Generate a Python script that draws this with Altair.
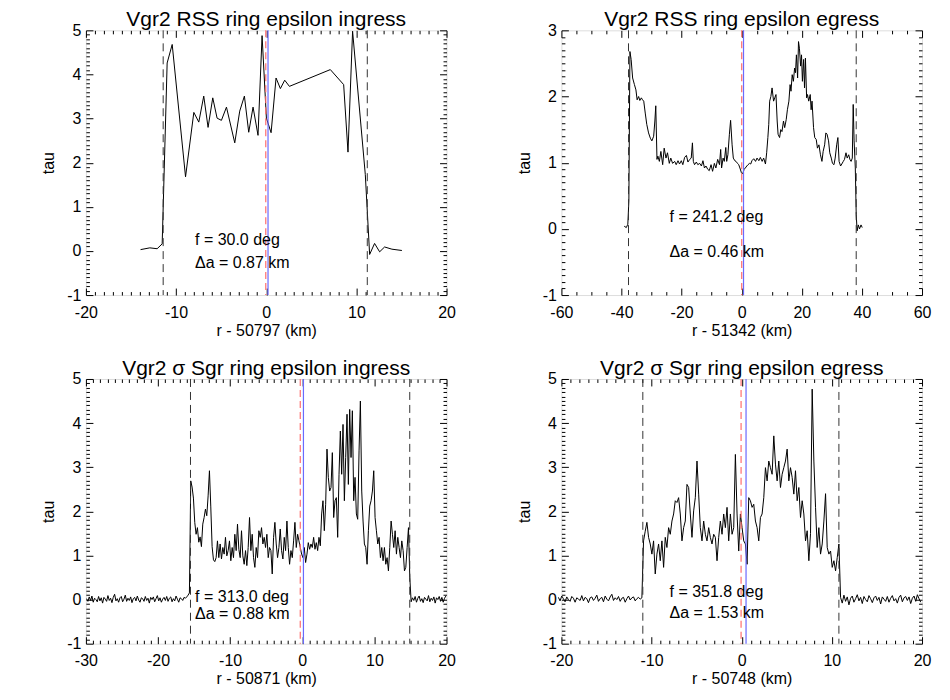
import altair as alt
import pandas as pd
import numpy as np

FONT = "Liberation Sans"
W, H = 361, 265

# ---------------- Panel 1: Vgr2 RSS ring epsilon ingress ----------------
p1_x = [-13.94, -12.91, -12.10, -11.54, -10.99, -10.43, -8.95, -8.03, -7.48, -6.93,
        -6.45, -5.93, -5.45, -4.97, -4.41, -3.49, -2.94, -2.42, -1.94, -1.46,
        -0.91, -0.46, 0.02, 0.54, 1.09, 1.57, 2.05, 2.57, 7.11, 8.59,
        9.07, 9.58, 10.99, 11.47, 12.02, 12.58, 13.13, 13.94, 15.05]
p1_tau = [0.03, 0.07, 0.05, 0.16, 4.26, 4.68, 1.68, 3.14, 2.92, 3.51,
          2.80, 3.47, 3.01, 2.96, 3.26, 2.45, 3.17, 3.51, 2.69, 3.26,
          2.62, 4.88, 3.01, 2.68, 3.92, 3.68, 3.87, 3.73, 4.11, 3.77,
          2.24, 4.98, 1.73, -0.08, 0.17, -0.02, 0.09, 0.04, 0.01]

# ---------------- Panel 2: Vgr2 RSS ring epsilon egress ----------------
p2_x = [-39.1, -38.4, -37.9, -37.55, -37.2, -36.8, -36.3, -35.7, -35.2, -34.8,
        -34.3, -33.9, -33.4, -33.0, -32.6, -32.1, -31.6, -31.0, -30.4, -29.9,
        -29.3, -28.9, -28.6, -28.2, -27.9, -27.4, -26.9, -26.3, -25.8, -25.2,
        -24.7, -24.1, -23.6, -23.0, -22.3, -21.8, -21.2, -20.7, -20.1, -19.6,
        -19.0, -18.4, -17.9, -17.3, -16.8, -16.4, -16.1, -15.7, -15.1, -14.6,
        -14.0, -13.4, -12.9, -12.4, -11.9, -11.3, -10.8, -10.2, -9.7, -9.1,
        -8.6, -8.0, -7.4, -7.0, -6.7, -6.2, -5.8, -5.3, -5.0, -4.6,
        -4.1, -3.7, -3.2, -2.8, -2.3, -1.9, -1.4, -1.0, -0.6, -0.1,
        0.3, 0.8, 1.2, 1.7, 2.1, 2.6, 3.0, 3.4, 4.0, 4.6,
        5.1, 5.7, 6.2, 6.8, 7.3, 7.9, 8.3, 8.7, 9.0, 9.3,
        9.7, 10.1, 10.6, 11.0, 11.4, 11.8, 12.1, 12.6, 13.0, 13.4,
        13.9, 14.3, 14.8, 15.2, 15.7, 16.1, 16.4, 16.8, 17.2, 17.6,
        17.9, 18.2, 18.6, 18.9, 19.2, 19.6, 19.9, 20.2, 20.6, 20.9,
        21.2, 21.6, 21.9, 22.3, 22.8, 23.1, 23.4, 23.9, 24.3, 24.8,
        25.2, 25.7, 26.2, 26.7, 27.1, 27.6, 28.0, 28.4, 28.9, 29.3,
        29.8, 30.2, 30.7, 31.1, 31.6, 32.0, 32.4, 32.9, 33.3, 33.8,
        34.2, 34.7, 35.1, 35.6, 36.0, 36.4, 36.8, 37.1, 37.4, 37.8,
        38.1, 38.4, 38.8, 39.2, 39.7, 40.1]
p2_tau = [0.04, 0.02, 0.07, 0.42, 2.68, 2.56, 2.28, 2.18, 2.10, 1.95,
          2.00, 1.94, 1.98, 1.95, 1.93, 1.75, 1.58, 1.45, 1.37, 1.33,
          1.40, 1.63, 1.86, 1.05, 1.10, 1.02, 1.17, 0.97, 1.22, 1.07,
          1.15, 0.99, 1.07, 0.99, 1.02, 0.97, 1.03, 0.98, 1.03, 0.97,
          1.08, 1.11, 1.01, 1.05, 1.07, 1.30, 1.02, 0.97, 1.01, 0.97,
          0.99, 0.95, 1.03, 0.92, 0.95, 0.90, 0.88, 0.97, 0.87, 0.99,
          0.92, 1.05, 0.97, 1.20, 0.92, 1.07, 1.02, 1.23, 1.02, 1.12,
          1.43, 1.64, 1.27, 1.07, 1.03, 1.02, 0.99, 0.97, 0.92, 0.85,
          0.83, 0.90, 0.92, 0.95, 0.97, 0.99, 0.98, 1.03, 1.06, 1.02,
          1.07, 1.03, 1.08, 1.02, 1.07, 0.98, 1.15, 1.38, 1.58, 1.93,
          2.00, 2.13, 1.93, 1.98, 2.03, 1.63, 1.43, 1.38, 1.50, 1.47,
          1.63, 1.53, 1.65, 1.80, 1.93, 2.18, 2.08, 2.33, 2.23, 2.43,
          2.36, 2.63, 2.28, 2.83, 2.73, 2.46, 2.63, 2.23, 2.56, 2.13,
          2.58, 1.98, 2.03, 1.93, 2.03, 1.80, 1.93, 1.53, 1.38, 1.35,
          1.22, 1.27, 1.12, 1.02, 1.17, 1.27, 1.45, 1.43, 1.33, 1.15,
          1.07, 0.99, 0.97, 1.07, 1.27, 1.38, 1.02, 0.95, 0.98, 1.02,
          1.05, 1.15, 1.07, 1.12, 1.05, 1.02, 1.07, 1.88, 1.33, 0.92,
          0.22, -0.03, 0.06, 0.00, 0.06, 0.02]

# ---------------- Panel 3: Vgr2 sigma Sgr ring epsilon ingress ----------------
p3_start, p3_step = -29.91, 0.1852
p3_tau = (
    [0.02, -0.04, 0.06, -0.02, 0.08, -0.06, 0.03, 0.00, -0.05, 0.07,
     -0.03, 0.04, -0.08, 0.05, 0.01, -0.04, 0.09, -0.02, 0.03, -0.07,
     0.05, 0.12, -0.03, 0.02, -0.06, 0.04, 0.07, -0.05, 0.01, 0.10,
     -0.04, 0.03, -0.02, 0.06, -0.07, 0.02, 0.05, -0.03, 0.08, -0.01,
     -0.06, 0.04, 0.02, -0.04, 0.07, -0.02, 0.03, -0.08, 0.05, 0.00,
     0.06, -0.05, 0.02, 0.09, -0.03, 0.04, -0.06, 0.01, 0.05, -0.02,
     0.07, -0.04, 0.03, 0.06, -0.05, 0.02, -0.03, 0.08, 0.01, -0.06,
     0.04, 0.02, -0.02, 0.05, 0.03, 0.06, 0.10]
    + [0.15, 2.69, 2.55, 2.30, 1.75, 1.48, 1.63, 1.30, 1.42, 1.20, 1.71,
       1.86, 2.05, 1.90, 2.35, 2.92, 2.10, 1.20, 0.90, 0.86, 0.95, 1.33]
    + [0.95, 1.26, 0.92, 1.18, 1.03, 1.41, 0.99, 1.11, 1.33, 0.88,
       1.18, 0.95, 1.48, 1.11, 1.71, 1.14, 0.95, 1.56, 0.99, 0.80,
       1.11, 0.77, 1.18, 1.86, 1.11, 1.48, 0.95, 0.73, 1.18, 0.95,
       1.56, 1.41, 1.63, 1.26, 1.41, 1.18, 1.48, 0.95, 1.18, 1.11,
       0.58, 1.41, 1.75, 1.26, 0.95, 1.18, 1.60, 1.11, 0.92, 1.41,
       1.11, 1.78, 1.18, 0.80, 1.11, 0.95, 1.33, 1.75, 1.18, 1.48,
       1.33, 1.18, 1.03, 0.95, 1.18, 0.84, 1.03, 1.29, 1.14, 1.26,
       1.18, 1.41, 1.14, 1.29, 1.11, 1.41, 1.22, 1.94, 2.24, 1.56,
       2.16, 3.41, 2.77, 2.46, 2.54, 3.33, 1.86, 2.24, 2.31, 1.41,
       2.84, 3.82, 2.84, 3.97, 2.24, 3.22, 4.20, 2.61, 4.31, 3.22,
       4.28, 2.24, 2.77, 1.94, 1.82, 3.37, 4.50, 2.46, 1.78, 1.26,
       1.18, 0.80, 1.56, 2.12, 2.24, 2.46, 2.92, 1.86, 1.56, 1.26,
       1.41, 0.95, 1.18, 0.88, 1.18, 0.80, 0.95, 0.65, 1.18, 1.78,
       1.48, 1.18, 1.56, 1.03, 1.41, 1.18, 0.95, 1.33, 1.11, 0.65,
       0.73, 1.18, 1.63, 0.50]
    + [-0.05, 0.04, -0.02, 0.07, -0.06, 0.03, 0.08, -0.04, 0.02, -0.07,
       0.05, 0.01, -0.03, 0.09, -0.05, 0.03, -0.02, 0.06, -0.08, 0.04,
       0.00, 0.07, -0.04, 0.05, -0.06, 0.03, 0.08]
)

# ---------------- Panel 4: Vgr2 sigma Sgr ring epsilon egress ----------------
p4_start, p4_step = -20.333, 0.1852
p4_tau = (
    [0.05, -0.03, 0.08, 0.02, -0.05, 0.06, 0.00, -0.04, 0.07, 0.03,
     -0.06, 0.04, 0.01, -0.02, 0.09, -0.03, 0.05, 0.02, -0.07, 0.04,
     0.06, -0.02, 0.03, 0.10, -0.04, 0.02, 0.05, -0.05, 0.08, 0.01,
     -0.03, 0.06, 0.12, -0.02, 0.04, 0.00, 0.07, -0.04, 0.03, 0.05,
     -0.06, 0.02, 0.08, -0.01, 0.04, 0.06, -0.03, 0.02, 0.05, 0.01, 0.04]
    + [1.33, 1.55, 1.75, 1.41, 1.26, 1.03, 1.33, 0.58, 1.03, 1.26,
       0.88, 1.33, 0.73, 1.41, 1.18, 1.63, 1.48, 1.78, 1.94, 2.24,
       2.20, 2.31, 1.94, 1.33, 1.63, 1.78, 2.61, 2.54, 1.94, 1.41,
       2.01, 2.31, 3.14, 2.39, 1.63, 1.33, 1.78, 1.48, 1.33, 1.63,
       1.41, 1.26, 1.48, 1.41, 0.88, 1.41, 1.78, 1.48, 1.94, 1.63,
       2.09, 1.33, 1.94, 1.48, 1.63, 3.29, 1.94, 1.10, 1.94, 1.63,
       1.33, 1.26, 0.80, 2.31, 2.24, 2.09, 2.16, 1.78, 1.63, 1.33,
       1.86, 1.94, 2.31, 2.99, 2.69, 3.14, 2.99, 2.84, 3.71, 3.07,
       2.69, 3.14, 2.54, 2.84, 2.99, 3.14, 3.41, 2.69, 2.99, 2.77,
       2.39, 2.92, 2.24, 2.54, 1.86, 2.24, 1.94, 1.33, 1.56, 0.88,
       1.50, 4.77, 3.14, 2.09, 1.18, 1.63, 1.03, 1.26, 1.78, 2.40,
       1.18, 1.03, 1.10, 0.73, 0.88, 0.65, 0.95, 1.26]
    + [0.05, -0.08, 0.10, -0.04, 0.06, -0.12, 0.03, 0.08, -0.06, 0.02,
       0.11, -0.03, 0.05, -0.09, 0.07, 0.00, -0.05, 0.09, 0.02, -0.07,
       0.04, 0.08, -0.02, 0.05, -0.10, 0.06, 0.01, -0.04, 0.07, -0.06,
       0.03, 0.09, -0.03, 0.02, -0.08, 0.05, 0.10, -0.05, 0.04, 0.07,
       -0.02, 0.06, -0.09, 0.03, 0.08, -0.04, 0.11, 0.02, -0.06]
)
p3_x = [round(p3_start + p3_step * i, 3) for i in range(len(p3_tau))]
p4_x = [round(p4_start + p4_step * i, 3) for i in range(len(p4_tau))]

# ---------------- Per-panel annotations ----------------
titles = ["Vgr2 RSS ring epsilon ingress", "Vgr2 RSS ring epsilon egress",
          "Vgr2 \u03c3 Sgr ring epsilon ingress", "Vgr2 \u03c3 Sgr ring epsilon egress"]
x_titles = ["r - 50797 (km)", "r - 51342 (km)", "r - 50871 (km)", "r - 50748 (km)"]
f_labels = ["f = 30.0 deg", "f = 241.2 deg", "f = 313.0 deg", "f = 351.8 deg"]
da_labels = ["\u0394a = 0.87 km", "\u0394a = 0.46 km", "\u0394a = 0.88 km", "\u0394a = 1.53 km"]
label_x = [-7.9, -24.0, -14.86, -8.0]
label_y_f = [0.245, 0.18, 0.065, 0.18]
label_y_da = [-0.27, -0.35, -0.32, -0.30]
edge_lines = [[-11.43, 11.21], [-37.67, 38.1], [-15.5, 14.9], [-10.97, 10.78]]
red_lines = [-0.05, 0.0, -0.28, -0.07]
blue_lines = [0.2, 0.6, 0.16, 0.48]

x_domains = [[-20, 20], [-60, 60], [-30, 20], [-20, 20]]
y_domains = [[-1, 5], [-1, 3], [-1, 5], [-1, 5]]
x_major = [[-20, -10, 0, 10, 20], [-60, -40, -20, 0, 20, 40, 60],
           [-30, -20, -10, 0, 10, 20], [-20, -10, 0, 10, 20]]
x_minor_step = [1, 5, 1, 1]
y_major = [[-1, 0, 1, 2, 3, 4, 5], [-1, 0, 1, 2, 3], [-1, 0, 1, 2, 3, 4, 5], [-1, 0, 1, 2, 3, 4, 5]]
y_minor_step = [0.1, 0.1, 0.1, 0.1]

series = [(p1_x, p1_tau), (p2_x, p2_tau), (p3_x, p3_tau), (p4_x, p4_tau)]


def minor_ticks(dom, step, majors):
    n = int(round((dom[1] - dom[0]) / step))
    vals = [round(dom[0] + i * step, 4) for i in range(n + 1)]
    return [v for v in vals if all(abs(v - m) > 1e-6 for m in majors)]


def tick_axis(orient, vals, size, offset):
    return alt.Axis(orient=orient, values=vals, labels=False, domain=False, grid=False,
                    ticks=True, tickSize=size, tickColor="black", tickWidth=1,
                    title=None, offset=offset)


def make_panel(i):
    xs, ys = series[i]
    df = pd.DataFrame({"x": xs, "y": ys})
    xsc = alt.Scale(domain=x_domains[i], nice=False, zero=False)
    ysc = alt.Scale(domain=y_domains[i], nice=False, zero=False)

    lbl_x = alt.Axis(orient="bottom", values=x_major[i], ticks=False, tickSize=0,
                     domain=False, grid=False, labelFont=FONT, labelFontSize=16,
                     labelColor="black", labelPadding=9, labelFlush=False,
                     labelOverlap=False, labelExpr="'' + datum.value",
                     title=x_titles[i], titleFont=FONT, titleFontSize=16,
                     titleFontWeight="normal", titleColor="black", titlePadding=2)
    lbl_y = alt.Axis(orient="left", values=y_major[i], ticks=False, tickSize=0,
                     domain=False, grid=False, labelFont=FONT, labelFontSize=16,
                     labelColor="black", labelPadding=5, labelOverlap=False,
                     labelExpr="'' + datum.value",
                     title="tau", titleFont=FONT, titleFontSize=16,
                     titleFontWeight="normal", titleColor="black", titlePadding=10)

    base = alt.Chart(df)
    layers = [base.mark_line(color="black", strokeWidth=1).encode(
        x=alt.X("x:Q", scale=xsc, axis=lbl_x),
        y=alt.Y("y:Q", scale=ysc, axis=lbl_y))]

    xmin = minor_ticks(x_domains[i], x_minor_step[i], x_major[i])
    ymin = minor_ticks(y_domains[i], y_minor_step[i], y_major[i])
    for xo, yo in [("top", "right"), ("bottom", "left")]:
        for vx, vy, size in [(x_major[i], y_major[i], 7), (xmin, ymin, 3.5)]:
            layers.append(base.mark_point(opacity=0).encode(
                x=alt.X("x:Q", scale=xsc, axis=tick_axis(xo, vx, size, -H)),
                y=alt.Y("y:Q", scale=ysc, axis=tick_axis(yo, vy, size, -W))))

    layers.append(alt.Chart(pd.DataFrame({"x": edge_lines[i]})).mark_rule(
        color="#333333", strokeDash=[8, 5], strokeWidth=1).encode(
        x=alt.X("x:Q", scale=xsc, axis=None)))
    layers.append(alt.Chart(pd.DataFrame({"x": [red_lines[i]]})).mark_rule(
        color="#ff6e6e", strokeDash=[7, 4], strokeWidth=1.2).encode(
        x=alt.X("x:Q", scale=xsc, axis=None)))
    layers.append(alt.Chart(pd.DataFrame({"x": [blue_lines[i]]})).mark_rule(
        color="#6a6aff", strokeWidth=1.2).encode(
        x=alt.X("x:Q", scale=xsc, axis=None)))

    ann = pd.DataFrame({"x": [label_x[i], label_x[i]],
                        "y": [label_y_f[i], label_y_da[i]],
                        "label": [f_labels[i], da_labels[i]]})
    layers.append(alt.Chart(ann).mark_text(
        align="left", baseline="middle", font=FONT, fontSize=16, color="black").encode(
        x=alt.X("x:Q", scale=xsc, axis=None),
        y=alt.Y("y:Q", scale=ysc, axis=None),
        text="label:N"))

    return alt.layer(*layers).resolve_axis(x="independent", y="independent").properties(
        width=W, height=H,
        title=alt.TitleParams(text=titles[i], font=FONT, fontSize=21, fontWeight="normal",
                              color="black", anchor="middle", offset=-8))


chart = alt.concat(
    *[make_panel(i) for i in range(4)],
    columns=2, spacing={"row": 84, "column": 115}, bounds="flush"
).properties(
    padding={"left": 32, "top": 0, "right": 10, "bottom": 5}
).configure_view(stroke="black", strokeWidth=1).configure(background="white")

chart.save("out.html", embed_options={"renderer": "svg", "actions": False})
